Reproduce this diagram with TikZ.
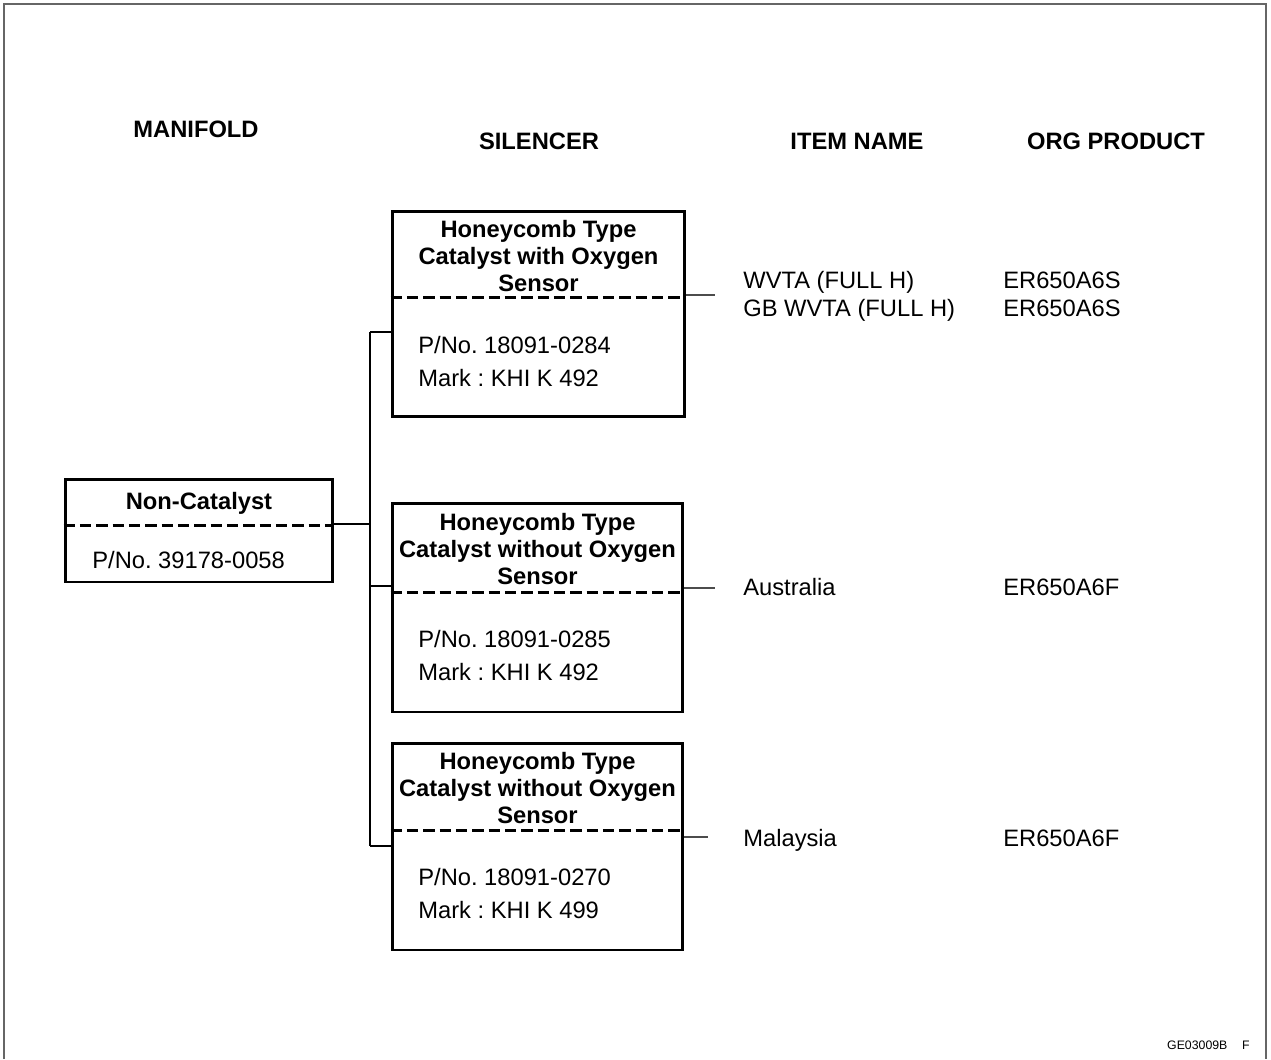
\documentclass[tikz,border=0pt]{standalone}
\usepackage{fontspec}
\setmainfont{Liberation Sans}
\frenchspacing
\tikzset{
    box/.style={draw, line width=1.7pt, inner sep=0pt},
    sep/.style={line width=1.7pt, dash pattern=on 6.5pt off 2.8pt},
    bus/.style={line width=1.1pt},
    stub/.style={line width=0.8pt, black!70},
    head/.style={font=\fontsize{13.5}{16}\selectfont\bfseries, inner sep=0pt},
    title/.style={font=\fontsize{13.5}{15.6}\selectfont\bfseries, align=center, inner sep=0pt},
    body/.style={font=\fontsize{13.5}{18.7}\selectfont, align=left, anchor=west, inner sep=0pt},
    item/.style={font=\fontsize{13.5}{15.9}\selectfont, align=left, anchor=west, inner sep=0pt, text depth=0pt}
}
\begin{document}
\begin{tikzpicture}[x=0.02cm, y=-0.02cm]
    \useasboundingbox (0,0) rectangle (1271,1059);
    % Frame
    \draw[black!60, line width=1.2pt] (4,1059) -- (4,4) -- (1266,4) -- (1266,1059);
    % Column heads
    \foreach \x/\y/\t in {196/129/MANIFOLD, 539/141/SILENCER, 857/141/ITEM NAME, 1116/141/ORG PRODUCT} {
        \node[head] at (\x,\y) {\t};
    }
    % Manifold
    \node[box, minimum width=5.36cm, minimum height=2.06cm] (nc) at (199,530.5) {};
    \draw[sep] (nc.west |- 0,525) -- (nc.east |- 0,525);
    \node[title] (ncT) at (199,503) {Non-Catalyst};
    \node[body] (ncB) at (92,560) {P/No. 39178-0058};
    % Silencers
    \node[box, minimum width=5.86cm, minimum height=4.12cm] (s1) at (538.5,314) {};
    \node[box, minimum width=5.82cm, minimum height=4.18cm] (s2) at (537.5,607.5) {};
    \node[box, minimum width=5.82cm, minimum height=4.14cm] (s3) at (537.5,846.5) {};
    \foreach \n/\d in {s1/297, s2/592, s3/830} {
        \draw[sep] (\n.west |- 0,\d) -- (\n.east |- 0,\d);
    }
    \node[title] (s1T) at (538.5,256) {Honeycomb Type\\Catalyst with Oxygen\\Sensor};
    \node[title] (s2T) at (537.5,549) {Honeycomb Type\\Catalyst without Oxygen\\Sensor};
    \node[title] (s3T) at (537.5,788) {Honeycomb Type\\Catalyst without Oxygen\\Sensor};
    \node[body] (s1B) at (418,361.5) {P/No. 18091-0284\\Mark : KHI K 492};
    \node[body] (s2B) at (418,655.5) {P/No. 18091-0285\\Mark : KHI K 492};
    \node[body] (s3B) at (418,893.5) {P/No. 18091-0270\\Mark : KHI K 499};
    % Bus
    \coordinate (b1) at (370,332);
    \coordinate (b0) at (370,524);
    \coordinate (b2) at (370,586);
    \coordinate (b3) at (370,846);
    \draw[bus] (b1) -- (b3);
    \draw[bus] (nc.east |- b0) -- (b0);
    \foreach \b/\n in {b1/s1, b2/s2, b3/s3} {
        \draw[bus] (\b) -- (\b -| \n.west);
    }
    % Items
    \node[item] (i1) at (743,294) {WVTA (FULL H)\\GB WVTA (FULL H)};
    \node[item] (p1) at (1003,294) {ER650A6S\\ER650A6S};
    \node[item] (i2) at (743,587) {Australia};
    \node[item] (p2) at (1003,587) {ER650A6F};
    \node[item] (i3) at (743,838) {Malaysia};
    \node[item] (p3) at (1003,838) {ER650A6F};
    \coordinate (e1) at (715,295);
    \coordinate (e2) at (715,588);
    \coordinate (e3) at (708,837);
    \foreach \e/\n in {e1/s1, e2/s2, e3/s3} {
        \draw[stub] (\e -| \n.east) -- (\e);
    }
    % Drawing number
    \node[font=\fontsize{7}{8}\selectfont, anchor=east, inner sep=0pt] (num) at (1250,1045) {GE03009B\hspace{1.2em}F};
\end{tikzpicture}
\end{document}
